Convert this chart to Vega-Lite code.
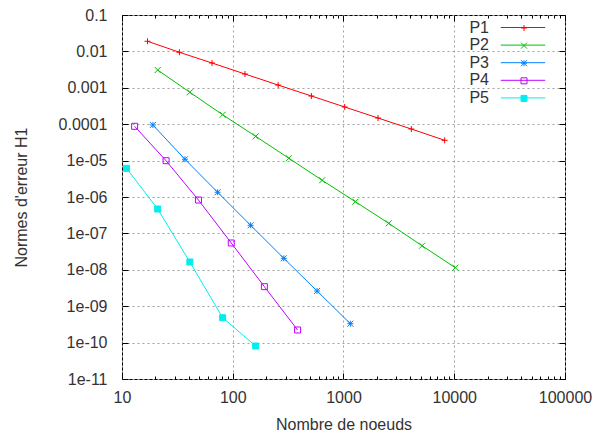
{
  "$schema": "https://vega.github.io/schema/vega-lite/v6.json",
  "width": 443,
  "height": 364,
  "autosize": "none",
  "padding": {"left": 122, "top": 15, "right": 38, "bottom": 55},
  "background": "white",
  "config": {"view": {"stroke": "#000000", "strokeWidth": 1}, "font": "Liberation Sans"},
  "data": {"values": [
    {"series": "P1", "n": 17, "err": 0.0190},
    {"series": "P1", "n": 33, "err": 0.00945},
    {"series": "P1", "n": 65, "err": 0.0048},
    {"series": "P1", "n": 129, "err": 0.00239},
    {"series": "P1", "n": 257, "err": 0.00119},
    {"series": "P1", "n": 513, "err": 0.000595},
    {"series": "P1", "n": 1025, "err": 0.000297},
    {"series": "P1", "n": 2049, "err": 0.000148},
    {"series": "P1", "n": 4097, "err": 0.0000738},
    {"series": "P1", "n": 8193, "err": 0.0000361},
    {"series": "P2", "n": 21, "err": 0.00308},
    {"series": "P2", "n": 41, "err": 0.000752},
    {"series": "P2", "n": 81, "err": 0.000182},
    {"series": "P2", "n": 161, "err": 0.0000465},
    {"series": "P2", "n": 321, "err": 0.0000116},
    {"series": "P2", "n": 641, "err": 2.88e-6},
    {"series": "P2", "n": 1281, "err": 7.43e-7},
    {"series": "P2", "n": 2561, "err": 1.89e-7},
    {"series": "P2", "n": 5121, "err": 4.59e-8},
    {"series": "P2", "n": 10241, "err": 1.14e-8},
    {"series": "P3", "n": 19, "err": 9.51e-5},
    {"series": "P3", "n": 37, "err": 1.09e-5},
    {"series": "P3", "n": 73, "err": 1.35e-6},
    {"series": "P3", "n": 145, "err": 1.67e-7},
    {"series": "P3", "n": 289, "err": 2.07e-8},
    {"series": "P3", "n": 577, "err": 2.62e-9},
    {"series": "P3", "n": 1153, "err": 3.31e-10},
    {"series": "P4", "n": 13, "err": 8.75e-5},
    {"series": "P4", "n": 25, "err": 9.93e-6},
    {"series": "P4", "n": 49, "err": 8.27e-7},
    {"series": "P4", "n": 97, "err": 5.45e-8},
    {"series": "P4", "n": 193, "err": 3.44e-9},
    {"series": "P4", "n": 385, "err": 2.22e-10},
    {"series": "P5", "n": 11, "err": 6.14e-6},
    {"series": "P5", "n": 21, "err": 4.68e-7},
    {"series": "P5", "n": 41, "err": 1.64e-8},
    {"series": "P5", "n": 81, "err": 4.83e-10},
    {"series": "P5", "n": 161, "err": 8.07e-11}
  ]},
  "layer": [
    {
      "mark": {"type": "line", "strokeWidth": 1},
      "encoding": {
        "x": {"field": "n", "type": "quantitative",
          "scale": {"type": "log", "domain": [10, 100000], "nice": false},
          "axis": {
            "orient": "bottom",
            "values": [10,20,30,40,50,60,70,80,90,100,200,300,400,500,600,700,800,900,1000,2000,3000,4000,5000,6000,7000,8000,9000,10000,20000,30000,40000,50000,60000,70000,80000,90000,100000],
            "domain": false,
            "grid": true, "gridColor": "#a0a0a0", "gridDash": [2, 3], "gridWidth": 1,
            "gridOpacity": {"condition": {"test": "abs(log(datum.value)/LN10 - round(log(datum.value)/LN10)) < 0.001", "value": 1}, "value": 0},
            "ticks": true, "tickColor": "#000000", "tickWidth": 1,
            "tickSize": {"condition": {"test": "abs(log(datum.value)/LN10 - round(log(datum.value)/LN10)) < 0.001", "value": -6}, "value": -3},
            "labelExpr": "abs(log(datum.value)/LN10 - round(log(datum.value)/LN10)) < 0.001 ? format(datum.value, 'd') : ''",
            "labelFont": "Liberation Sans", "labelFontSize": 16, "labelColor": "#333333",
            "labelPadding": 16, "labelOverlap": false, "labelBound": false, "labelFlush": false,
            "title": "Nombre de noeuds", "titleFont": "Liberation Sans", "titleFontSize": 16,
            "titleFontWeight": "normal", "titleColor": "#333333", "titleY": 50, "titleBaseline": "alphabetic"
          }},
        "y": {"field": "err", "type": "quantitative",
          "scale": {"type": "log", "domain": [1e-11, 0.1], "nice": false},
          "axis": {
            "orient": "left",
            "values": [1e-11,1e-10,1e-9,1e-8,1e-7,1e-6,1e-5,1e-4,1e-3,1e-2,1e-1],
            "domain": false,
            "grid": true, "gridColor": "#a0a0a0", "gridDash": [2, 3], "gridWidth": 1,
            "ticks": true, "tickColor": "#000000", "tickWidth": 1, "tickSize": -6,
            "labelExpr": "round(log(datum.value)/LN10) >= -4 ? format(datum.value, '.' + (-round(log(datum.value)/LN10)) + 'f') : '1e-' + (round(log(datum.value)/LN10) > -10 ? '0' : '') + (-round(log(datum.value)/LN10))",
            "labelFont": "Liberation Sans", "labelFontSize": 16, "labelColor": "#333333",
            "labelPadding": 21, "labelOverlap": false, "labelBound": false, "labelFlush": false,
            "title": "Normes d'erreur H1", "titleFont": "Liberation Sans", "titleFontSize": 16,
            "titleFontWeight": "normal", "titleColor": "#333333",
            "titleX": -101, "titleY": 182, "titleAngle": -90, "titleBaseline": "middle", "titleAlign": "center"
          }},
        "stroke": {"field": "series", "type": "nominal",
          "scale": {"domain": ["P1","P2","P3","P4","P5"], "range": ["#ff0000","#00c000","#0080ff","#c000ff","#00eeee"]},
          "legend": {
            "orient": "none", "legendX": 358, "legendY": 4.5, "direction": "vertical",
            "title": null, "padding": 0,
            "labelFont": "Liberation Sans", "labelFontSize": 16, "labelColor": "#333333",
            "labelAlign": "right", "labelOffset": -42,
            "symbolType": "M-7.4,0H7.4", "symbolOffset": 35, "symbolSize": 36, "symbolStrokeWidth": 1,
            "rowPadding": 1.6
          }}
      }
    },
    {
      "mark": {"type": "point", "strokeWidth": 1, "size": 36, "opacity": 1, "filled": false},
      "encoding": {
        "x": {"field": "n", "type": "quantitative",
          "scale": {"type": "log", "domain": [10, 100000], "nice": false},
          "axis": {
            "orient": "top",
            "values": [10,20,30,40,50,60,70,80,90,100,200,300,400,500,600,700,800,900,1000,2000,3000,4000,5000,6000,7000,8000,9000,10000,20000,30000,40000,50000,60000,70000,80000,90000,100000],
            "domain": false, "grid": false, "labels": false, "title": null,
            "ticks": true, "tickColor": "#000000", "tickWidth": 1,
            "tickSize": {"condition": {"test": "abs(log(datum.value)/LN10 - round(log(datum.value)/LN10)) < 0.001", "value": -6}, "value": -3}
          }},
        "y": {"field": "err", "type": "quantitative",
          "scale": {"type": "log", "domain": [1e-11, 0.1], "nice": false},
          "axis": {
            "orient": "right",
            "values": [1e-11,1e-10,1e-9,1e-8,1e-7,1e-6,1e-5,1e-4,1e-3,1e-2,1e-1],
            "domain": false, "grid": false, "labels": false, "title": null,
            "ticks": true, "tickColor": "#000000", "tickWidth": 1, "tickSize": -6
          }},
        "stroke": {"field": "series", "type": "nominal",
          "scale": {"domain": ["P1","P2","P3","P4","P5"], "range": ["#ff0000","#00c000","#0080ff","#c000ff","#00eeee"]}},
        "fill": {"field": "series", "type": "nominal",
          "scale": {"domain": ["P1","P2","P3","P4","P5"], "range": ["transparent","transparent","transparent","transparent","#00eeee"]}},
        "shape": {"field": "series", "type": "nominal",
          "scale": {"domain": ["P1","P2","P3","P4","P5"], "range": [
            "M-1,0H1M0,-1V1",
            "M-1,-1L1,1M-1,1L1,-1",
            "M-1,0H1M0,-1V1M-1,-1L1,1M-1,1L1,-1",
            "M-1,-1H1V1H-1Z",
            "M-1,-1H1V1H-1Z"
          ]},
          "legend": {
            "orient": "top-right", "offset": 4.5, "direction": "vertical",
            "title": null, "padding": 0,
            "labelFont": "Liberation Sans", "labelFontSize": 16, "labelColor": "#333333", "labelOpacity": 0,
            "labelAlign": "right", "labelOffset": 28.5,
            "symbolOffset": 0, "symbolSize": 36, "symbolStrokeWidth": 1,
            "rowPadding": 1.6
          }}
      }
    }
  ],
  "resolve": {
    "axis": {"x": "independent", "y": "independent"},
    "legend": {"stroke": "independent", "shape": "independent", "fill": "independent"}
  }
}
